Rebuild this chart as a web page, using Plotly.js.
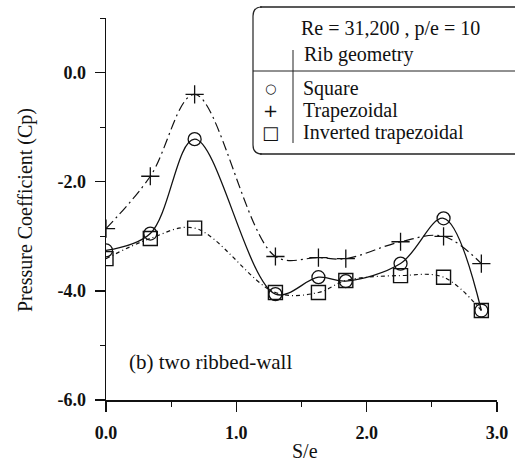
<!DOCTYPE html>
<html>
<head>
<meta charset="utf-8">
<script src="https://cdn.plot.ly/plotly-3.0.1.min.js"></script>
<style>html,body{margin:0;padding:0;background:#fff;}#chart{width:515px;height:464px;}</style>
</head>
<body>
<div id="chart"></div>
<script>
// Data
const sPos = [0, 0.34, 0.68, 1.30, 1.63, 1.84, 2.26, 2.59, 2.88];
const cpSquare = [-3.26, -2.95, -1.22, -4.06, -3.75, -3.82, -3.50, -2.67, -4.36];
const cpTrapezoidal = [-2.86, -1.90, -0.40, -3.37, -3.39, -3.41, -3.10, -3.00, -3.50];
const cpInverted = [-3.41, -3.04, -2.85, -4.03, -4.03, -3.81, -3.72, -3.75, -4.36];
const seriesNames = ["Square", "Trapezoidal", "Inverted trapezoidal"];
const xTickVals = [0, 1, 2, 3];
const xTickText = ["0.0", "1.0", "2.0", "3.0"];
const yTickVals = [0, -2, -4, -6];
const yTickText = ["0.0", "-2.0", "-4.0", "-6.0"];

const FONT = "Liberation Serif, Times New Roman, serif";
const W = 515, H = 464, L = 106, R = 497, T = 18, B = 400;
const px = x => (x - L) / (R - L);
const py = y => (B - y) / (B - T);

const traces = [
  {x: sPos, y: cpSquare, name: seriesNames[0], mode: "lines+markers",
   line: {shape: "spline", smoothing: 1, color: "#111", width: 1.3},
   marker: {symbol: "circle-open", size: 13, color: "#111", line: {width: 1.3, color: "#111"}}},
  {x: sPos, y: cpTrapezoidal, name: seriesNames[1], mode: "lines+markers",
   line: {shape: "spline", smoothing: 1, color: "#111", width: 1.2, dash: "10px,4px,2px,4px"},
   marker: {symbol: "cross-thin-open", size: 13, color: "#111", line: {width: 1.3, color: "#111"}}},
  {x: sPos, y: cpInverted, name: seriesNames[2], mode: "lines+markers",
   line: {shape: "spline", smoothing: 1, color: "#111", width: 1.2, dash: "4px,3px,1px,3px"},
   marker: {symbol: "square-open", size: 14, color: "#111", line: {width: 1.4, color: "#111"}}}
];

const ann = [];
function txt(t, x, y, size, anchor) {
  ann.push({text: t, xref: "paper", yref: "paper", x: px(x), y: py(y), xanchor: anchor || "left",
            yanchor: "middle", showarrow: false, font: {family: FONT, size: size, color: "#111"}});
}
txt("Re = 31,200 , p/e = 10", 299, 29, 20);
txt("Rib geometry", 302, 55, 20);
txt(seriesNames[0], 301, 88, 20);
txt(seriesNames[1], 301, 110, 20);
txt(seriesNames[2], 301, 132, 20);
ann.push({text: "○", xref: "paper", yref: "paper", x: px(270), y: py(88), xanchor: "center", yanchor: "middle",
          showarrow: false, font: {family: "DejaVu Sans", size: 13, color: "#111"}});
ann.push({text: "+", xref: "paper", yref: "paper", x: px(270), y: py(110), xanchor: "center", yanchor: "middle",
          showarrow: false, font: {family: "DejaVu Sans", size: 18, color: "#111"}});
ann.push({text: "□", xref: "paper", yref: "paper", x: px(270), y: py(132), xanchor: "center", yanchor: "middle",
          showarrow: false, font: {family: "DejaVu Sans", size: 18, color: "#111"}});
txt("(b) two ribbed-wall", 127, 362, 21);
txt("S/e", 305, 451, 20, "center");
ann.push({text: "Pressure Coefficient (Cp)", xref: "paper", yref: "paper", x: px(25), y: py(210),
          xanchor: "center", yanchor: "middle", textangle: -90, showarrow: false,
          font: {family: FONT, size: 20, color: "#111"}});

const ln = (x0, y0, x1, y1, w) => ({type: "line", xref: "paper", yref: "paper",
  x0: px(x0), y0: py(y0), x1: px(x1), y1: py(y1), line: {color: "#222", width: w || 1.2}});
const shapes = [
  ln(260, 7, 516, 7, 1.3),
  ln(260, 154, 516, 154, 1.3),
  ln(253, 71, 516, 71, 1),
  ln(293, 50, 293, 143, 1),
  {type: "path", xref: "paper", yref: "paper",
   path: `M ${px(262)},${py(7)} Q ${px(253)},${py(7)} ${px(253)},${py(16)} L ${px(253)},${py(145)} Q ${px(253)},${py(154)} ${px(262)},${py(154)}`,
   line: {color: "#222", width: 1.2}}
];

const axisCommon = {showline: true, linecolor: "#111", linewidth: 1.5, ticks: "outside", ticklen: 10,
  tickwidth: 1.5, tickcolor: "#111", showgrid: false, zeroline: false, mirror: false, tickmode: "array",
  tickfont: {family: FONT, size: 18, color: "#111", weight: "bold"}};

const layout = {
  width: W, height: H, margin: {l: L, r: W - R, t: T, b: H - B},
  paper_bgcolor: "#fff", plot_bgcolor: "#fff", showlegend: false,
  xaxis: Object.assign({}, axisCommon, {range: [0, 3], tickvals: xTickVals, ticktext: xTickText,
    ticklabelstandoff: 6,
    minor: {tickmode: "array", tickvals: [0.5, 1.5, 2.5], ticks: "outside", ticklen: 5, tickcolor: "#111", tickwidth: 1}}),
  yaxis: Object.assign({}, axisCommon, {range: [-6, 1], tickvals: yTickVals, ticktext: yTickText,
    ticklabelstandoff: 5,
    minor: {tickmode: "array", tickvals: [1, -1, -3, -5], ticks: "outside", ticklen: 5, tickcolor: "#111", tickwidth: 1}}),
  annotations: ann, shapes: shapes
};

Plotly.newPlot("chart", traces, layout, {staticPlot: true, displayModeBar: false});
</script>
</body>
</html>
